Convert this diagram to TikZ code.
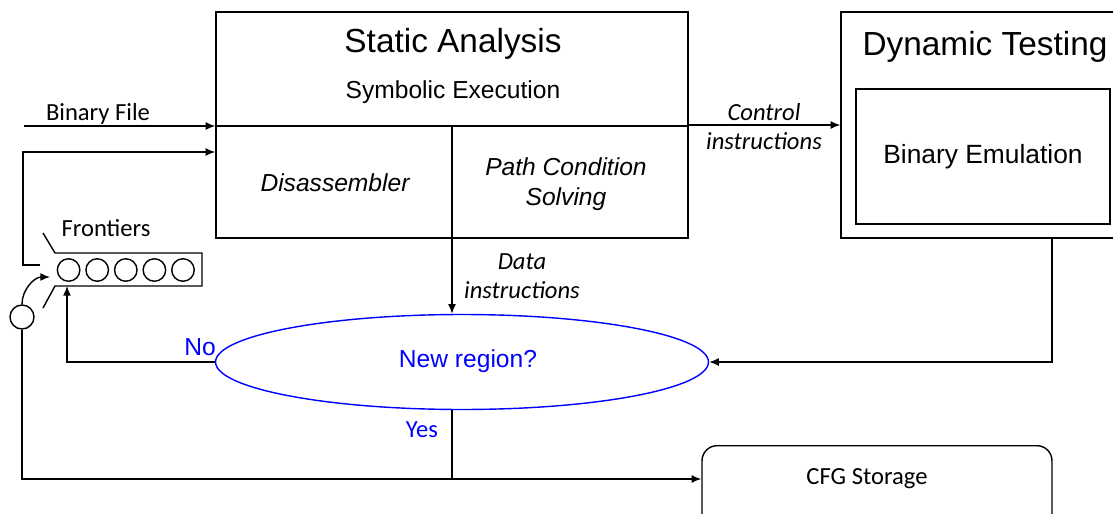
\documentclass[tikz,border=0pt]{standalone}
\usepackage{fontspec}
\setmainfont{Liberation Sans}
\newfontfamily\calib{Carlito}
\usetikzlibrary{arrows, arrows.meta, shapes, positioning, calc}

\begin{document}
\begin{tikzpicture}[x=0.02cm, y=-0.02cm, line width=0.8pt, >={Latex[length=5.5pt, width=4.5pt]},
	box/.style={draw, rectangle, inner sep=0pt},
	txt/.style={font=\fontsize{14}{17}\selectfont},
	itxt/.style={font=\fontsize{14}{17}\selectfont\itshape, align=center},
	ttl/.style={font=\fontsize{19}{22}\selectfont},
	lbl/.style={font=\calib\fontsize{14}{17}\selectfont, align=center},
	ilbl/.style={font=\calib\fontsize{14}{16.5}\selectfont\itshape, align=center},
	slot/.style={draw, circle, minimum size=0.45cm, inner sep=0pt}]
	\useasboundingbox (0,0) rectangle (1113,514);
	\node[box, minimum width=9.44cm, minimum height=4.52cm] (static) at (452,125) {};
	\node[box, minimum width=5.58cm, minimum height=4.52cm] (dyn) at (980.5,125) {};
	\node[box, minimum width=5.08cm, minimum height=2.7cm] (emu) at (983,156.5) {};
	\node[txt, font=\fontsize{15}{18}\selectfont] (be) at (983,157) {Binary Emulation};
	\node[draw=blue, ellipse, minimum width=9.86cm, minimum height=1.9cm, inner sep=0pt] (newreg) at (462,362) {};
	\node[txt, text=blue] (nr) at (468,361) {New region?};
	\node[box, anchor=north, rounded corners=0.3cm, minimum width=7cm, minimum height=1.8cm] (cfg) at (877,445) {};
	\node[lbl] (cs) at (867,479) {CFG Storage};
	\coordinate (mid) at (452,126);
	\draw (static.west |- mid) -- (static.east |- mid);
	\draw (mid) -- (static.south);
	\node[ttl] (sa) at (453,44) {Static Analysis};
	\node[txt] (se) at (453,92) {Symbolic Execution};
	\node[itxt] (dis) at (335,183) {Disassembler};
	\node[itxt] (pcs) at (566,184) {Path Condition\\Solving};
	\node[ttl] (dt) at (985,47) {Dynamic Testing};
	\draw[->] (static.east) -- (dyn.west);
	\node[ilbl] (ci) at (764,127) {Control\\instructions};
	\coordinate (bfin) at (24,126);
	\draw[->] (bfin) -- (bfin -| static.west);
	\node[lbl] (bf) at (98,114) {Binary File};
	\draw (43,233) -- (55,253) -- (202,253) -- (202,286) -- (55,286) -- (43,308);
	\foreach \i in {1,...,5}
		\node[slot] (f\i) at (40+28.6*\i,270) {};
	\node[lbl] (fr) at (106,228) {Frontiers};
	\coordinate (qout) at (40,265);
	\coordinate (fb) at (23,152);
	\draw[->] (qout) -- (qout -| fb) -- (fb) -- (fb -| static.west);
	\node[slot, minimum size=0.48cm] (sw) at (22,317) {};
	\coordinate (qin) at (50,277);
	\draw[->] (sw.north) to[out=90, in=180] (qin);
	\draw[->] (sw.south) |- ([yshift=-0.68cm]cfg.north west);
	\coordinate (qback) at (67,286);
	\draw[->] (newreg.west) -| (qback);
	\node[txt, text=blue] (no) at (200,347) {No};
	\coordinate (dynout) at (1052,238);
	\draw[->] (dynout) |- (newreg.east);
	\draw[->] (static.south) -- (static.south |- newreg.north);
	\node[ilbl] (di) at (522,276) {Data\\instructions};
	\draw (static.south |- newreg.south) -- (static.south |- cs);
	\node[lbl, text=blue] (yes) at (422,430) {Yes};
\end{tikzpicture}
\end{document}
